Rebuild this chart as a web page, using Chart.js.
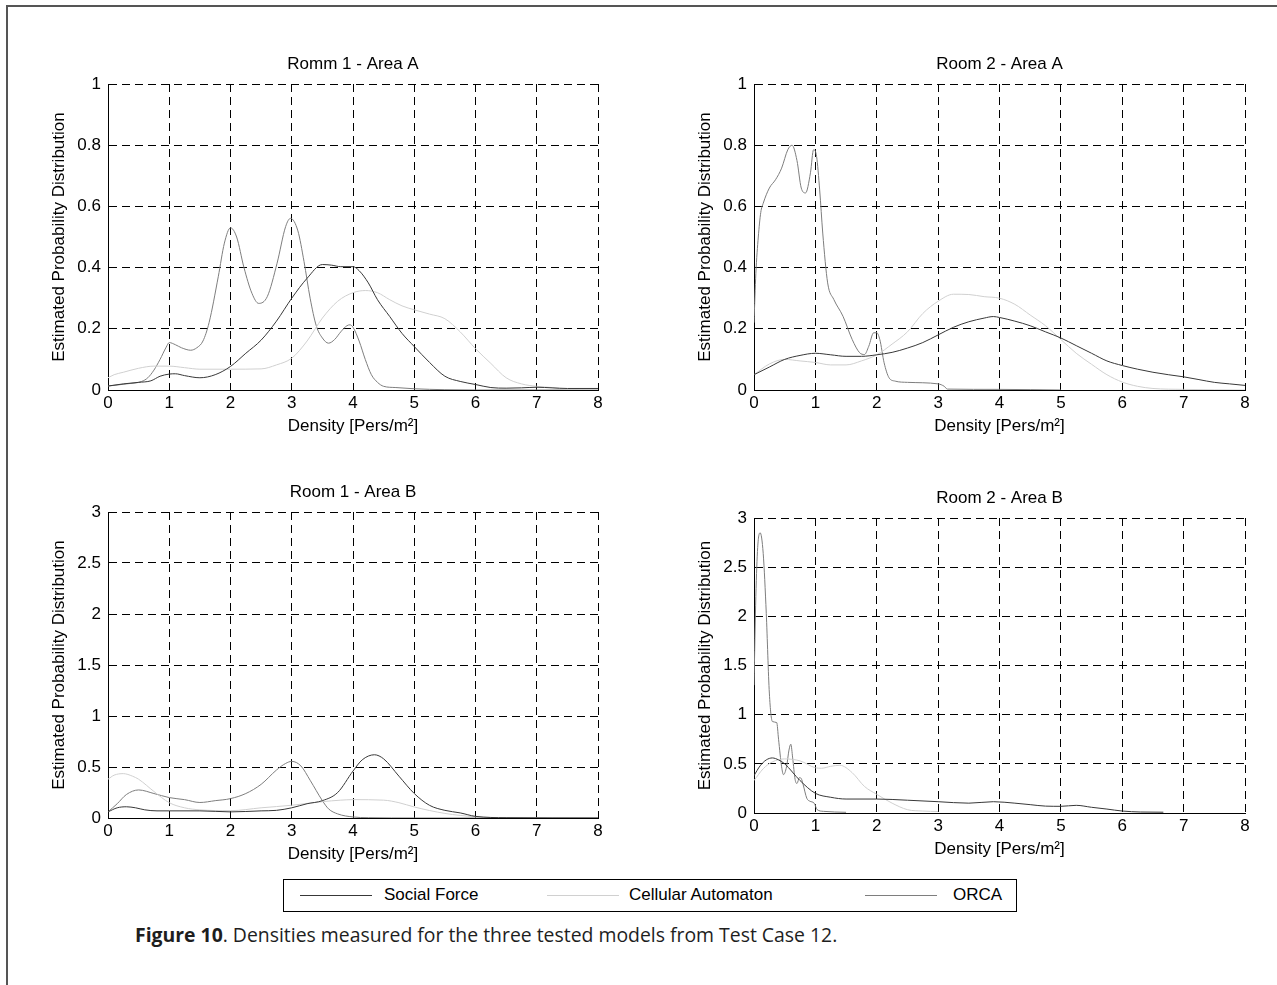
<!DOCTYPE html>
<html>
<head>
<meta charset="utf-8">
<title>Densities measured for the three tested models</title>
<script src="https://cdn.jsdelivr.net/npm/chart.js@4.4.1/dist/chart.umd.min.js"></script>
<style>
  html, body { margin: 0; padding: 0; background: #fff; }
  body { width: 1277px; height: 985px; position: relative; overflow: hidden; font-family: 'Liberation Sans', Arial, sans-serif; }
  #frame { position: absolute; left: 6px; top: 5px; width: 1400px; height: 1100px; border-top: 2px solid #555; border-left: 2px solid #555; }
  canvas { position: absolute; }
  #legend { position: absolute; left: 283px; top: 879px; width: 734px; height: 33px; border: 1px solid #000; box-sizing: border-box; background: #fff; }
  .key { position: absolute; top: 15px; width: 72px; height: 0; border-top: 1px solid; }
  .lbl { position: absolute; top: 5px; font-size: 17px; line-height: 20px; color: #000; white-space: nowrap; }
  #caption { position: absolute; left: 135px; top: 923px; font-family: 'Open Sans', 'Noto Sans', sans-serif; font-size: 19.4px; line-height: 24px; color: #1e1e1e; white-space: nowrap; }
</style>
</head>
<body>
<div id="frame"></div>
<canvas id="room1A" width="630" height="390" style="left:38px;top:50px"></canvas>
<canvas id="room2A" width="631" height="390" style="left:684px;top:50px"></canvas>
<canvas id="room1B" width="630" height="390" style="left:38px;top:478px"></canvas>
<canvas id="room2B" width="631" height="379" style="left:684px;top:484px"></canvas>
<div id="legend"></div>
<div id="caption"><b>Figure 10</b>. Densities measured for the three tested models from Test Case 12.</div>

<script>
// series names and shared axis ticks
const seriesNames = ['Social Force', 'Cellular Automaton', 'ORCA'];
const xTicks = [0, 1, 2, 3, 4, 5, 6, 7, 8];
const yTicksA = [0, 0.2, 0.4, 0.6, 0.8, 1];
const yTicksB = [0, 0.5, 1, 1.5, 2, 2.5, 3];

// Room 1 - Area A
const r1aSocialX = [0, 0.25, 0.5, 0.7, 0.85, 1.0, 1.1, 1.25, 1.5, 1.75, 2.0, 2.25, 2.5, 2.75, 3.0, 3.25, 3.5, 3.65, 3.8, 4.0, 4.1, 4.25, 4.4, 4.6, 4.8, 5.0, 5.25, 5.5, 5.75, 6.0, 6.25, 6.5, 6.75, 7.0, 7.25, 7.5, 8];
const r1aSocialY = [0.013, 0.02, 0.025, 0.03, 0.045, 0.052, 0.053, 0.047, 0.04, 0.05, 0.077, 0.12, 0.163, 0.225, 0.3, 0.365, 0.41, 0.408, 0.403, 0.403, 0.39, 0.35, 0.295, 0.24, 0.185, 0.142, 0.09, 0.045, 0.028, 0.018, 0.008, 0.006, 0.007, 0.009, 0.007, 0.005, 0.005];
const r1aCellX = [0, 0.1, 0.25, 0.5, 0.75, 1.0, 1.25, 1.5, 2.0, 2.5, 2.75, 3.0, 3.25, 3.5, 3.75, 4.0, 4.2, 4.4, 4.6, 4.8, 5.0, 5.25, 5.5, 5.75, 6.0, 6.25, 6.5, 6.75, 7.0, 7.25, 7.5, 8];
const r1aCellY = [0.04, 0.05, 0.058, 0.071, 0.078, 0.078, 0.073, 0.068, 0.068, 0.069, 0.082, 0.104, 0.16, 0.235, 0.29, 0.318, 0.325, 0.318, 0.295, 0.275, 0.262, 0.248, 0.233, 0.19, 0.135, 0.087, 0.04, 0.02, 0.012, 0.008, 0.003, 0.002];
const r1aOrcaX = [0, 0.3, 0.55, 0.65, 0.75, 0.85, 0.95, 1.0, 1.1, 1.2, 1.35, 1.45, 1.55, 1.65, 1.8, 1.9, 2.0, 2.1, 2.22, 2.35, 2.46, 2.6, 2.76, 2.9, 2.98, 3.1, 3.2, 3.3, 3.4, 3.5, 3.6, 3.7, 3.8, 3.9, 3.95, 4.0, 4.1, 4.2, 4.3, 4.4, 4.5, 4.7, 5.0, 5.5, 6.0, 8];
const r1aOrcaY = [0.013, 0.02, 0.028, 0.04, 0.065, 0.1, 0.14, 0.155, 0.148, 0.138, 0.13, 0.138, 0.16, 0.22, 0.37, 0.48, 0.53, 0.5, 0.4, 0.316, 0.283, 0.305, 0.414, 0.534, 0.561, 0.52, 0.42, 0.3, 0.21, 0.17, 0.153, 0.165, 0.19, 0.21, 0.213, 0.205, 0.16, 0.1, 0.05, 0.025, 0.012, 0.008, 0.004, 0.001, 0, 0];

// Room 2 - Area A
const r2aSocialX = [0, 0.25, 0.5, 0.75, 1.0, 1.25, 1.5, 1.75, 2.0, 2.25, 2.5, 2.75, 3.0, 3.25, 3.5, 3.75, 3.9, 4.0, 4.25, 4.5, 4.75, 5.0, 5.25, 5.5, 5.75, 6.0, 6.25, 6.5, 6.75, 7.0, 7.25, 7.5, 7.75, 8];
const r2aSocialY = [0.05, 0.075, 0.1, 0.113, 0.12, 0.115, 0.11, 0.11, 0.115, 0.123, 0.137, 0.155, 0.18, 0.205, 0.223, 0.235, 0.24, 0.237, 0.225, 0.21, 0.19, 0.17, 0.145, 0.12, 0.095, 0.08, 0.068, 0.058, 0.05, 0.043, 0.034, 0.025, 0.02, 0.015];
const r2aCellX = [0, 0.25, 0.5, 0.75, 1.0, 1.25, 1.5, 1.75, 2.0, 2.25, 2.5, 2.75, 3.0, 3.25, 3.5, 3.75, 4.0, 4.25, 4.5, 4.75, 5.0, 5.25, 5.5, 5.75, 6.0, 6.25, 6.5, 7.0, 8];
const r2aCellY = [0.05, 0.085, 0.1, 0.095, 0.09, 0.082, 0.082, 0.095, 0.115, 0.15, 0.19, 0.25, 0.29, 0.313, 0.312, 0.305, 0.3, 0.28, 0.245, 0.21, 0.165, 0.12, 0.084, 0.05, 0.026, 0.012, 0.005, 0.002, 0];
const r2aOrcaX = [0, 0.03, 0.07, 0.11, 0.15, 0.25, 0.35, 0.45, 0.55, 0.62, 0.7, 0.77, 0.84, 0.92, 0.97, 1.02, 1.07, 1.12, 1.2, 1.3, 1.45, 1.6, 1.72, 1.8, 1.87, 1.95, 2.0, 2.05, 2.12, 2.2, 2.3, 2.5, 3.0, 3.1, 3.15, 4.0, 5.0];
const r2aOrcaY = [0.22, 0.38, 0.5, 0.58, 0.61, 0.66, 0.687, 0.725, 0.785, 0.8, 0.75, 0.66, 0.644, 0.71, 0.785, 0.763, 0.654, 0.513, 0.35, 0.296, 0.241, 0.165, 0.122, 0.116, 0.143, 0.187, 0.187, 0.165, 0.089, 0.04, 0.029, 0.025, 0.02, 0.012, 0.003, 0.002, 0];

// Room 1 - Area B
const r1bSocialX = [0, 0.15, 0.3, 0.45, 0.6, 0.8, 1.0, 1.5, 2.0, 2.5, 2.75, 3.0, 3.25, 3.5, 3.75, 4.0, 4.15, 4.35, 4.5, 4.75, 5.0, 5.25, 5.5, 5.75, 6.0, 6.5, 8];
const r1bSocialY = [0.06, 0.1, 0.11, 0.1, 0.08, 0.07, 0.07, 0.07, 0.06, 0.07, 0.075, 0.1, 0.14, 0.17, 0.25, 0.46, 0.57, 0.62, 0.58, 0.41, 0.24, 0.124, 0.075, 0.05, 0.016, 0.003, 0];
const r1bCellX = [0, 0.1, 0.25, 0.4, 0.5, 0.75, 1.0, 1.25, 1.5, 2.0, 2.5, 3.0, 3.5, 3.8, 4.0, 4.5, 4.75, 5.0, 5.5, 6.0, 6.5, 8];
const r1bCellY = [0.38, 0.42, 0.435, 0.41, 0.38, 0.26, 0.15, 0.1, 0.08, 0.072, 0.1, 0.125, 0.16, 0.175, 0.18, 0.175, 0.15, 0.108, 0.045, 0.012, 0.003, 0];
const r1bOrcaX = [0, 0.15, 0.3, 0.5, 0.75, 1.0, 1.25, 1.5, 1.75, 2.0, 2.25, 2.5, 2.75, 2.9, 3.0, 3.15, 3.3, 3.5, 3.6, 3.75, 4.0, 4.25, 5.0, 8];
const r1bOrcaY = [0.06, 0.14, 0.23, 0.275, 0.24, 0.2, 0.18, 0.152, 0.17, 0.19, 0.24, 0.33, 0.47, 0.535, 0.555, 0.51, 0.37, 0.17, 0.09, 0.04, 0.01, 0.003, 0, 0];

// Room 2 - Area B
const r2bSocialX = [0, 0.1, 0.2, 0.3, 0.4, 0.5, 0.75, 1.0, 1.25, 1.5, 2.0, 2.5, 3.0, 3.5, 3.9, 4.25, 4.5, 4.75, 5.0, 5.25, 5.5, 5.75, 6.0, 6.3, 6.67];
const r2bSocialY = [0.38, 0.48, 0.54, 0.56, 0.54, 0.5, 0.33, 0.2, 0.16, 0.142, 0.142, 0.13, 0.115, 0.1, 0.115, 0.1, 0.085, 0.07, 0.068, 0.078, 0.058, 0.04, 0.02, 0.01, 0.008];
const r2bCellX = [0, 0.15, 0.3, 0.5, 0.75, 1.0, 1.1, 1.25, 1.4, 1.6, 1.8, 2.0, 2.25, 2.5, 2.75, 3.0];
const r2bCellY = [0.33, 0.45, 0.52, 0.55, 0.53, 0.46, 0.455, 0.475, 0.485, 0.41, 0.27, 0.19, 0.1, 0.034, 0.02, 0.015];
const r2bOrcaX = [0, 0.03, 0.06, 0.1, 0.15, 0.2, 0.25, 0.3, 0.37, 0.4, 0.45, 0.48, 0.53, 0.57, 0.6, 0.63, 0.67, 0.7, 0.74, 0.77, 0.8, 0.86, 0.91, 0.98, 1.03, 1.13, 1.5];
const r2bOrcaY = [1.3, 2.2, 2.7, 2.85, 2.64, 2.03, 1.22, 0.93, 0.92, 0.75, 0.47, 0.39, 0.47, 0.64, 0.7, 0.56, 0.34, 0.3, 0.36, 0.35, 0.29, 0.15, 0.12, 0.1, 0.034, 0.017, 0.007];

// greys used for the three models
const lineColors = ['#383838', '#d0d0d0', '#7e7e7e'];
const FONT = { family: "'Liberation Sans', Arial, sans-serif", size: 17, weight: 'normal' };
const Y_AXIS_W = 70;   // room left of each plot for ticks + y title (mirrored on the right)
const X_AXIS_H = 50;   // room below each plot for ticks + x title

function points(xs, ys) {
  return xs.map((x, i) => ({ x: x, y: ys[i] }));
}

function makePanel(id, title, yTicks, series) {
  const yMax = yTicks[yTicks.length - 1];
  return new Chart(document.getElementById(id), {
    type: 'line',
    data: {
      datasets: series.map((s, i) => ({
        label: seriesNames[i],
        data: points(s[0], s[1]),
        borderColor: lineColors[i],
        borderWidth: 1,
        pointRadius: 0,
        fill: false,
        cubicInterpolationMode: 'monotone'
      }))
    },
    options: {
      responsive: false,
      animation: false,
      devicePixelRatio: 1,
      layout: { padding: 0 },
      plugins: {
        legend: { display: false },
        tooltip: { enabled: false },
        title: { display: true, text: title, color: '#000', font: FONT, padding: { top: 4, bottom: 9.6 } }
      },
      scales: {
        x: {
          type: 'linear', min: 0, max: 8,
          afterBuildTicks: s => { s.ticks = xTicks.map(v => ({ value: v })); },
          afterFit: s => { s.height = X_AXIS_H; },
          ticks: { color: '#000', font: FONT, padding: 3, maxRotation: 0, callback: v => String(v) },
          grid: { color: '#000', lineWidth: 1, drawTicks: false },
          border: { display: true, color: '#000', width: 1, dash: [8, 5] },
          title: { display: true, text: 'Density [Pers/m²]', color: '#000', font: FONT, padding: { top: 0, bottom: 3.3 } }
        },
        y: {
          type: 'linear', min: 0, max: yMax,
          afterBuildTicks: s => { s.ticks = yTicks.map(v => ({ value: v })); },
          afterFit: s => { s.width = Y_AXIS_W; },
          ticks: { color: '#000', font: FONT, padding: 7, callback: v => String(v) },
          grid: { color: '#000', lineWidth: 1, drawTicks: false },
          border: { display: true, color: '#000', width: 1, dash: [8, 5] },
          title: { display: true, text: 'Estimated Probability Distribution', color: '#000', font: FONT, padding: { top: 10.8, bottom: 0 } }
        },
        // empty right-hand spacer so the panel title sits over the plot
        spacer: {
          type: 'linear', position: 'right', min: 0, max: 1,
          ticks: { display: false },
          grid: { display: false },
          border: { display: false },
          afterFit: s => { s.width = Y_AXIS_W; }
        }
      }
    }
  });
}

makePanel('room1A', 'Romm 1 - Area A', yTicksA,
  [[r1aSocialX, r1aSocialY], [r1aCellX, r1aCellY], [r1aOrcaX, r1aOrcaY]]);
makePanel('room2A', 'Room 2 - Area A', yTicksA,
  [[r2aSocialX, r2aSocialY], [r2aCellX, r2aCellY], [r2aOrcaX, r2aOrcaY]]);
makePanel('room1B', 'Room 1 - Area B', yTicksB,
  [[r1bSocialX, r1bSocialY], [r1bCellX, r1bCellY], [r1bOrcaX, r1bOrcaY]]);
makePanel('room2B', 'Room 2 - Area B', yTicksB,
  [[r2bSocialX, r2bSocialY], [r2bCellX, r2bCellY], [r2bOrcaX, r2bOrcaY]]);

// shared legend underneath the four panels
const legendEl = document.getElementById('legend');
const keyLeft = [16, 263, 581];
const labelLeft = [100, 345, 669];
seriesNames.forEach((name, i) => {
  const key = document.createElement('div');
  key.className = 'key';
  key.style.left = keyLeft[i] + 'px';
  key.style.borderTopColor = lineColors[i];
  legendEl.appendChild(key);
  const lbl = document.createElement('div');
  lbl.className = 'lbl';
  lbl.style.left = labelLeft[i] + 'px';
  lbl.textContent = name;
  legendEl.appendChild(lbl);
});
</script>
</body>
</html>
